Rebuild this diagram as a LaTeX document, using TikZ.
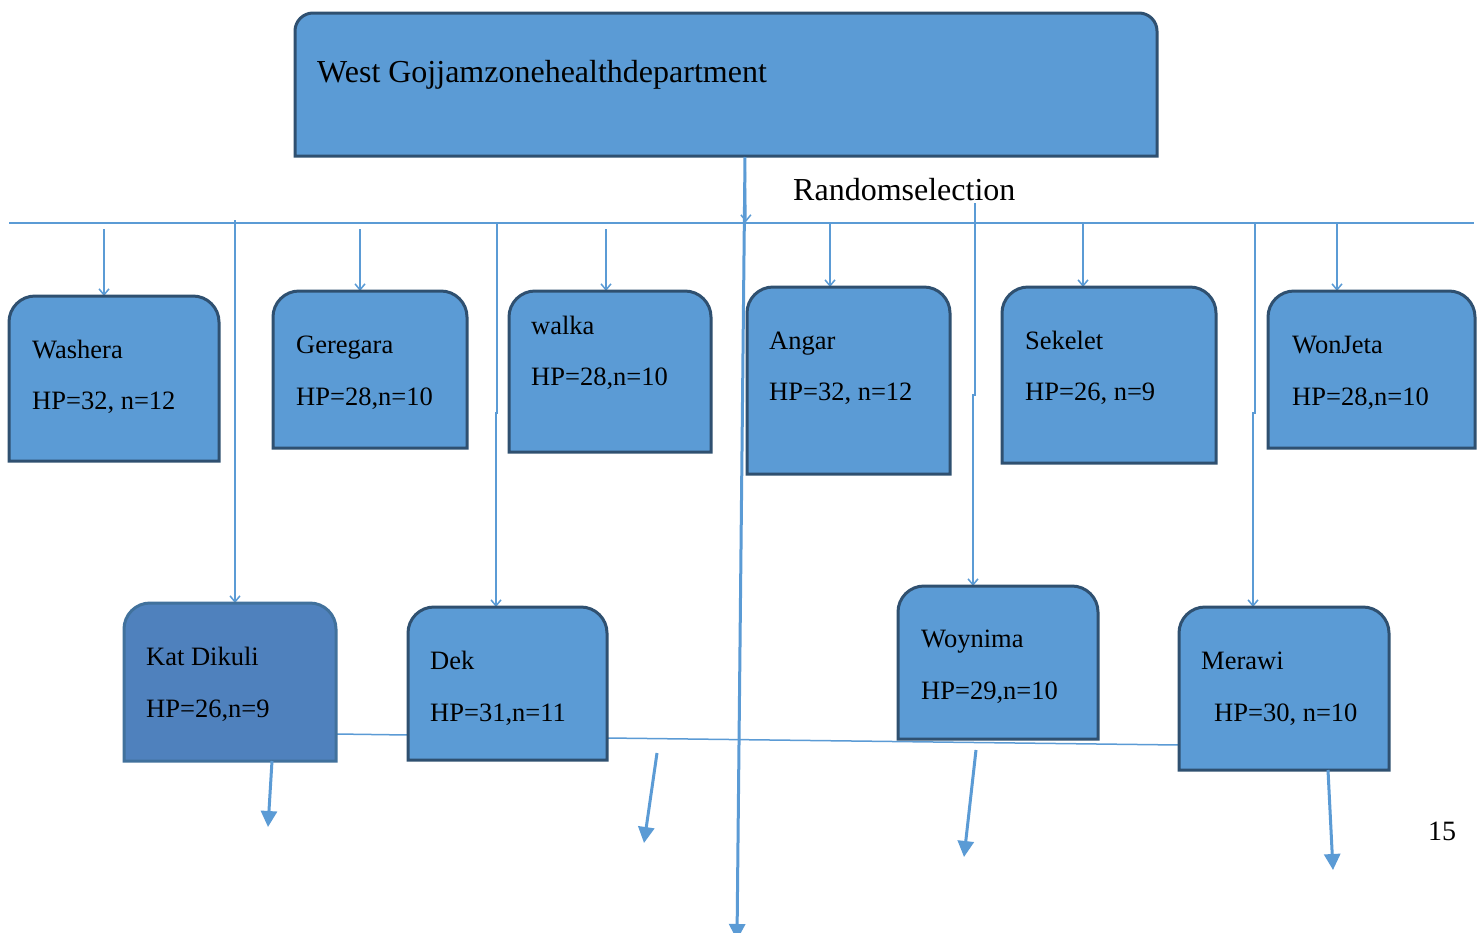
\documentclass[tikz,border=0pt]{standalone}
\usepackage{fontspec}
\setmainfont{Liberation Serif}
\usetikzlibrary{calc,arrows.meta}
\definecolor{boxfill}{HTML}{5B9BD5}
\definecolor{boxline}{HTML}{2F5070}
\definecolor{katfill}{HTML}{4F81BD}
\definecolor{katline}{HTML}{41719C}
\definecolor{wire}{HTML}{5B9BD5}
\newcommand\tabshape[3]{%
  \path[#1] (#2.south west) -- ($(#2.north west)+(0,#3)$)
    .. controls ($(#2.north west)+(0,0.45*#3)$) and ($(#2.north west)+(0.45*#3,0)$) .. ($(#2.north west)+(#3,0)$)
    -- ($(#2.north east)+(-#3,0)$)
    .. controls ($(#2.north east)+(-0.45*#3,0)$) and ($(#2.north east)+(0,0.45*#3)$) .. ($(#2.north east)+(0,#3)$)
    -- (#2.south east) -- cycle;}
\tikzset{
  boxarea/.style={draw=none,inner sep=0pt,outer sep=0pt},
  bluebox/.style={fill=boxfill,draw=boxline,line width=3pt},
  katbox/.style={fill=katfill,draw=katline,line width=3pt},
  lbl/.style={anchor=base west,inner sep=0pt,font=\fontsize{26.5}{30}\selectfont},
  biglbl/.style={anchor=base west,inner sep=0pt,font=\fontsize{32}{36}\selectfont},
  wireline/.style={draw=wire,line width=1.5pt},
  thinarrow/.style={draw=wire,line width=1.5pt,-{Straight Barb[length=6pt,width=10pt]}},
  thickarrow/.style={draw=wire,line width=3pt,-{Triangle[length=16pt,width=16pt]}},
}
\begin{document}
\begin{tikzpicture}[x=1pt,y=-1pt]
\useasboundingbox[fill=white] (0,0) rectangle (1481,932);
% box areas
\node[boxarea,minimum width=862pt,minimum height=143pt] (top) at (726,84.5) {};
\node[boxarea,minimum width=210pt,minimum height=165pt] (washera) at (114,378.5) {};
\node[boxarea,minimum width=194pt,minimum height=157pt] (geregara) at (370,369.5) {};
\node[boxarea,minimum width=202pt,minimum height=161pt] (walka) at (610,371.5) {};
\node[boxarea,minimum width=203pt,minimum height=187pt] (angar) at (848.5,380.5) {};
\node[boxarea,minimum width=214pt,minimum height=176pt] (sekelet) at (1109,375) {};
\node[boxarea,minimum width=207pt,minimum height=157pt] (wonjeta) at (1371.5,369.5) {};
\node[boxarea,minimum width=212pt,minimum height=158pt] (katdikuli) at (230,682) {};
\node[boxarea,minimum width=199pt,minimum height=153pt] (dek) at (507.5,683.5) {};
\node[boxarea,minimum width=200pt,minimum height=153pt] (woynima) at (998,662.5) {};
\node[boxarea,minimum width=210pt,minimum height=163pt] (merawi) at (1284,688.5) {};
% bus and connectors
\coordinate (busL) at (9,223);
\coordinate (busR) at (1474,223);
\draw[wireline] (busL) -- (busR);
\draw[thinarrow] (745,156) -- (746,222);
\draw[thinarrow] (104,229) -- (104,0 |- washera.north);
\draw[thinarrow] (360,229) -- (360,0 |- geregara.north);
\draw[thinarrow] (606,229) -- (606,0 |- walka.north);
\draw[thinarrow] (830,223) -- (830,0 |- angar.north);
\draw[thinarrow] (1083,223) -- (1083,0 |- sekelet.north);
\draw[thinarrow] (1337,223) -- (1337,0 |- wonjeta.north);
\draw[thinarrow] (235,220) -- (235,0 |- katdikuli.north);
\draw[thinarrow] (497,223) -- (497,413) -- (496,413) -- (496,0 |- dek.north);
\draw[thinarrow] (975,203) -- (975,395) -- (973,395) -- (973,0 |- woynima.north);
\draw[thinarrow] (1255,223) -- (1255,413) -- (1253,413) -- (1253,0 |- merawi.north);
% bottom link line
\draw[wireline] (katdikuli.east |- 0,734) -- (dek.west |- 0,735);
\draw[wireline] (dek.east |- 0,738) -- (merawi.west |- 0,745);
% boxes
\tabshape{bluebox}{top}{18}
\tabshape{bluebox}{washera}{26}
\tabshape{bluebox}{geregara}{26}
\tabshape{bluebox}{walka}{26}
\tabshape{bluebox}{angar}{26}
\tabshape{bluebox}{sekelet}{26}
\tabshape{bluebox}{wonjeta}{26}
\tabshape{katbox}{katdikuli}{26}
\tabshape{bluebox}{dek}{26}
\tabshape{bluebox}{woynima}{26}
\tabshape{bluebox}{merawi}{26}
% long arrow and bottom arrows
\draw[thickarrow] (745,157) -- (737,940);
\draw[thickarrow] (272,0 |- katdikuli.south) -- (268,827);
\draw[thickarrow] (657,753) -- (644,843);
\draw[thickarrow] (976,750) -- (964,857);
\draw[thickarrow] (1328,0 |- merawi.south) -- (1333,870);
% texts
\node[biglbl] (ttl) at (317,82) {West Gojjamzonehealthdepartment};
\node[biglbl] (rs) at (793,200) {Randomselection};
\node[lbl] (t1a) at (32,358) {Washera};
\node[lbl] (t1b) at (32,409) {HP=32, n=12};
\node[lbl] (t2a) at (296,353) {Geregara};
\node[lbl] (t2b) at (296,405) {HP=28,n=10};
\node[lbl] (t3a) at (531,334) {walka};
\node[lbl] (t3b) at (531,385) {HP=28,n=10};
\node[lbl] (t4a) at (769,349) {Angar};
\node[lbl] (t4b) at (769,400) {HP=32, n=12};
\node[lbl] (t5a) at (1025,349) {Sekelet};
\node[lbl] (t5b) at (1025,400) {HP=26, n=9};
\node[lbl] (t6a) at (1292,353) {WonJeta};
\node[lbl] (t6b) at (1292,405) {HP=28,n=10};
\node[lbl] (t7a) at (146,665) {Kat Dikuli};
\node[lbl] (t7b) at (146,717) {HP=26,n=9};
\node[lbl] (t8a) at (430,669) {Dek};
\node[lbl] (t8b) at (430,721) {HP=31,n=11};
\node[lbl] (t9a) at (921,647) {Woynima};
\node[lbl] (t9b) at (921,699) {HP=29,n=10};
\node[lbl] (t10a) at (1201,669) {Merawi};
\node[lbl] (t10b) at (1214,721) {HP=30, n=10};
\node[anchor=base west,inner sep=0pt,font=\fontsize{28}{32}\selectfont] (pg) at (1428,840) {15};
\end{tikzpicture}
\end{document}
